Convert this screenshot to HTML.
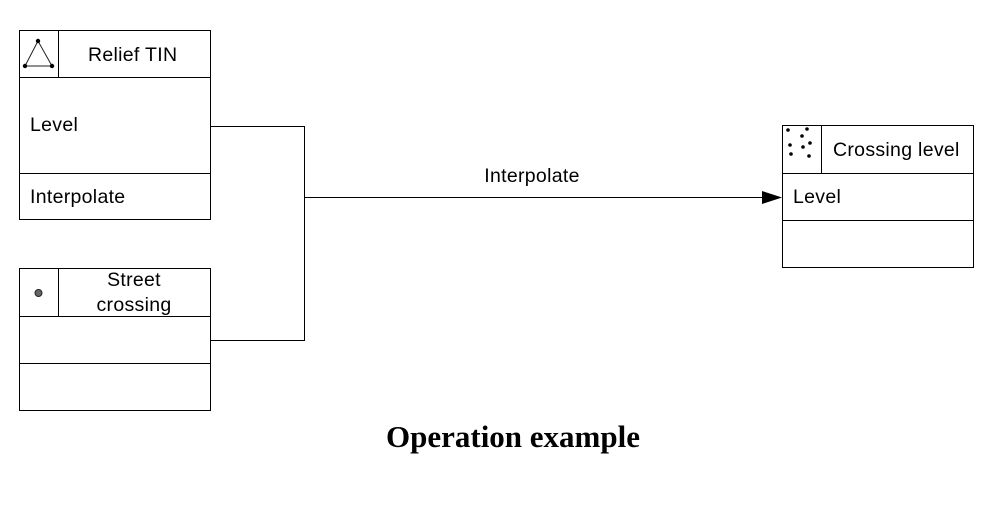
<!DOCTYPE html>
<html><head><meta charset="utf-8"><style>
html,body{margin:0;padding:0;background:#fff;}
svg{display:block;}
text{font-family:"Liberation Sans",sans-serif;font-size:19.5px;fill:#000;letter-spacing:0.3px;}
</style></head><body>
<svg width="999" height="518" viewBox="0 0 999 518" xmlns="http://www.w3.org/2000/svg">
<g fill="none" stroke="#000" stroke-width="1">
<rect x="19.5" y="30.5" width="191" height="189"/>
<line x1="19" y1="77.5" x2="211" y2="77.5"/>
<line x1="58.5" y1="30" x2="58.5" y2="77"/>
<line x1="19" y1="173.5" x2="211" y2="173.5"/>
<rect x="19.5" y="268.5" width="191" height="142"/>
<line x1="19" y1="316.5" x2="211" y2="316.5"/>
<line x1="58.5" y1="268" x2="58.5" y2="316"/>
<line x1="19" y1="363.5" x2="211" y2="363.5"/>
<rect x="782.5" y="125.5" width="191" height="142"/>
<line x1="782" y1="173.5" x2="974" y2="173.5"/>
<line x1="821.5" y1="125" x2="821.5" y2="173"/>
<line x1="782" y1="220.5" x2="974" y2="220.5"/>
<polyline points="211,126.5 304.5,126.5 304.5,340.5 211,340.5"/>
<line x1="304" y1="197.5" x2="764" y2="197.5"/>
<polygon points="38,41 25,66 52,66" stroke="#222"/>
</g>
<polygon points="762,191 782,197.5 762,204" fill="#000"/>
<g fill="#000">
<circle cx="38" cy="41" r="2.2"/><circle cx="25" cy="66" r="2.2"/><circle cx="52" cy="66" r="2.2"/>
<circle cx="788" cy="130" r="1.8"/><circle cx="807" cy="129" r="1.8"/><circle cx="802" cy="136" r="1.8"/>
<circle cx="790" cy="145" r="1.8"/><circle cx="810" cy="143" r="1.8"/><circle cx="803" cy="147" r="1.8"/>
<circle cx="791" cy="154" r="1.8"/><circle cx="809" cy="156" r="1.8"/>
</g>
<circle cx="38.5" cy="293" r="3.5" fill="#666" stroke="#222" stroke-width="1"/>
<text x="88" y="61">Relief TIN</text>
<text x="30" y="131">Level</text>
<text x="30" y="203">Interpolate</text>
<text x="134" y="286" text-anchor="middle">Street</text>
<text x="134" y="311" text-anchor="middle">crossing</text>
<text x="833" y="156">Crossing level</text>
<text x="793" y="203">Level</text>
<text x="532" y="182" text-anchor="middle">Interpolate</text>
<text x="513" y="447" text-anchor="middle" style="font-family:'Liberation Serif',serif;font-weight:bold;font-size:31px;letter-spacing:0">Operation example</text>
</svg>
</body></html>
